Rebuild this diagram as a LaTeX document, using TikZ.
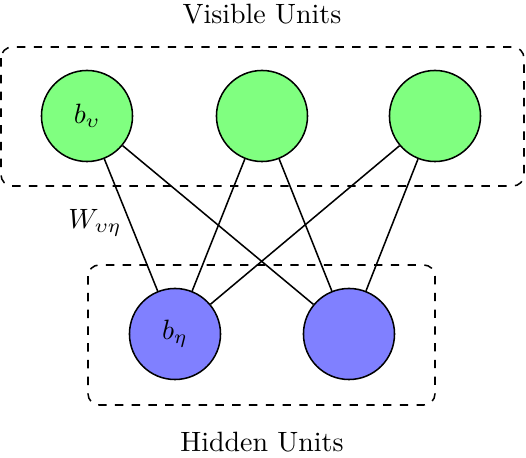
\documentclass[tikz,border=0pt]{standalone}
\begin{document}
\begin{tikzpicture}[x=0.358pt,y=-0.358pt,
  unit/.style={circle,draw,line width=0.55pt,minimum size=32.6pt,inner sep=0pt},
  vis/.style={unit,fill=green!50},
  hid/.style={unit,fill=blue!50},
  grp/.style={draw,dashed,rounded corners=4pt,line width=0.55pt},
  edge/.style={draw,line width=0.55pt}]
\useasboundingbox (0,0) rectangle (526,458);
\draw[grp] (1,47) rectangle (524,186);
\draw[grp] (88,265) rectangle (435,405);
\node[vis] (v1) at (87,116) {$b_\upsilon$};
\node[vis] (v2) at (262,116) {};
\node[vis] (v3) at (435,116) {};
\node[hid] (h1) at (175,334) {$b_\eta$};
\node[hid] (h2) at (349,334) {};
\foreach \v in {v1,v2,v3}{\foreach \h in {h1,h2}{\draw[edge] (\v) -- (\h);}}
\node (wl) at (95,223) {$W_{\upsilon\eta}$};
\node (vt) at (262,14) {Visible Units};
\node (ht) at (262,442) {Hidden Units};
\end{tikzpicture}
\end{document}
